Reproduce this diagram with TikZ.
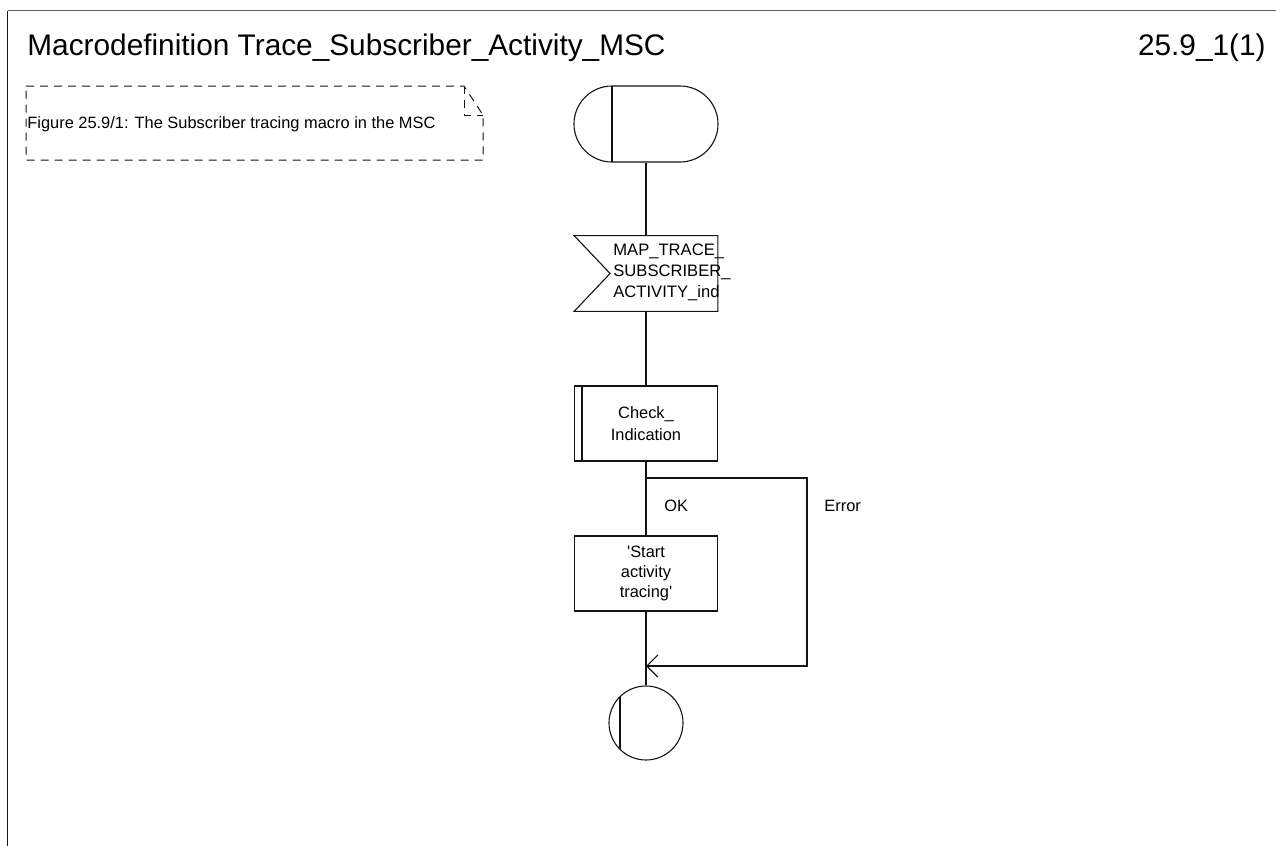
\documentclass[tikz,border=0pt]{standalone}
\usepackage{fontspec}
\setmainfont{Liberation Sans}
\usetikzlibrary{arrows.meta, positioning, shapes.misc}
\definecolor{framegray}{RGB}{95,95,95}
\definecolor{sdlblack}{RGB}{20,20,20}
\tikzset{
  sdlline/.style={draw=sdlblack, line width=0.55pt},
  commentline/.style={draw=sdlblack, line width=0.5pt, dash pattern=on 4pt off 3pt},
  headtext/.style={inner sep=0pt, font=\fontsize{14.9}{18}\selectfont},
  commenttext/.style={inner sep=0pt, font=\fontsize{8.2}{10}\selectfont},
  boxtext/.style={inner sep=0pt, font=\fontsize{8.3}{10.5}\selectfont},
  labeltext/.style={inner sep=0pt, font=\fontsize{8.2}{10}\selectfont},
  startsym/.style={rounded rectangle, sdlline, minimum width=72pt, minimum height=38pt, inner sep=0pt},
  sigbox/.style={rectangle, draw=none, minimum width=71.5pt, minimum height=37.5pt, inner sep=0pt},
  procbox/.style={rectangle, sdlline, minimum width=71.5pt, minimum height=37.5pt, inner sep=0pt,
    align=center, font=\fontsize{8.2}{11}\selectfont},
  taskbox/.style={rectangle, sdlline, minimum width=71.5pt, minimum height=37.5pt, inner sep=0pt,
    align=center, font=\fontsize{8.2}{10}\selectfont},
  stopsym/.style={circle, sdlline, minimum size=37pt, inner sep=0pt},
  sdlarrow/.style={sdlline, -{Straight Barb[length=5.5pt, width=11pt]}}
}
\begin{document}
\begin{tikzpicture}[x=0.5pt, y=-0.5pt]
  \useasboundingbox (0,0) rectangle (1276,846);
  % frame and heading
  \draw[framegray, line width=0.7pt] (7.5,10.5) -- (1276,10.5);
  \draw[sdlblack, line width=0.8pt] (7.5,10.5) -- (7.5,846);
  \node[headtext, anchor=base west] (title) at (27,55) {Macrodefinition Trace\_Subscriber\_Activity\_MSC};
  \node[headtext, anchor=base east] (pagenum) at (1266,55) {25.9\_1(1)};

  % comment
  \draw[commentline] (26,86) -- (464,86) -- (483,115) -- (483,160) -- (26,160) -- cycle;
  \draw[commentline] (464,86) -- (464,115) -- (483,115);
  \node[commenttext, anchor=base west] (comment) at (27,128) {Figure 25.9/1: The Subscriber tracing macro in the MSC};

  % start
  \node[startsym] (start) at (646,124) {};
  \draw[sdlline] ([shift={(-34,-38)}]start.center) -- ([shift={(-34,38)}]start.center);

  % input signal
  \node[sigbox] (insig) at (646,273.5) {};
  \draw[sdlline] (insig.north west) -- (insig.north east) -- (insig.south east)
    -- (insig.south west) -- ([xshift=18pt]insig.west) -- cycle;
  \node[boxtext, align=left, anchor=west] (insigtext) at (613,272) {MAP\_TRACE\_\\SUBSCRIBER\_\\ACTIVITY\_ind};

  % procedure call
  \node[procbox] (check) at (646,423.5) {Check\_\\Indication};
  \draw[sdlline] ([xshift=4pt]check.north west) -- ([xshift=4pt]check.south west);

  % task
  \node[taskbox] (task) at (646,573.5) {\textquotesingle Start\\activity\\tracing\textquotesingle};

  % stop
  \node[stopsym] (stop) at (646,723) {};
  \draw[sdlline] ([shift={(-26,-26)}]stop.center) -- ([shift={(-26,26)}]stop.center);

  % connectors
  \coordinate (branch) at (646,478);
  \coordinate (merge) at (646,666);
  \draw[sdlline] (start.south) -- (insig.north);
  \draw[sdlline] (insig.south) -- (check.north);
  \draw[sdlline] (check.south) -- (task.north);
  \draw[sdlline] (task.south) -- (stop.north);
  \draw[sdlarrow] (branch) -- ++(161,0) |- (merge);
  \node[labeltext, anchor=west] (oklabel) at (664,506) {OK};
  \node[labeltext, anchor=west] (errlabel) at (824,506) {Error};
\end{tikzpicture}
\end{document}
